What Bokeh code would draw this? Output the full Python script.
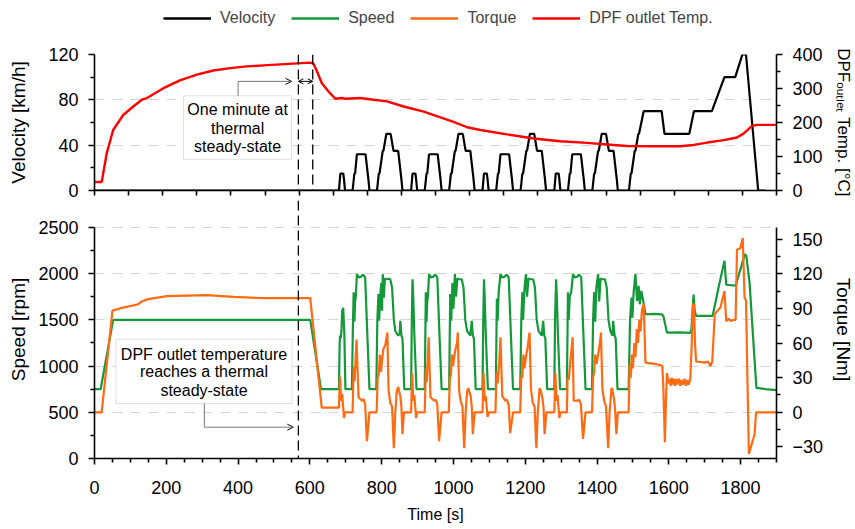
from bokeh.plotting import figure
from bokeh.models import (Range1d, LinearAxis, FixedTicker, Legend, LegendItem, Span,
                          BoxAnnotation, Label, Arrow, OpenHead)
from bokeh.layouts import column
from bokeh.embed import file_html
from bokeh.resources import INLINE

FONT = "Liberation Sans"
BLACK = "#000000"
GREEN = "#14993a"
ORANGE = "#ff6a13"
RED = "#ff0000"

# ---------------- data ----------------
velocity_t = [0, 681, 685, 693, 695, 698, 719, 724, 726, 731, 755, 763, 766, 787, 792, 794, 803, 805, 813, 825, 833, 846, 855, 858,
              882, 886, 894, 896, 899, 920, 925, 927, 932, 956, 964, 967, 988, 993, 995, 1004, 1006, 1014, 1026, 1034, 1047, 1056, 1059,
              1081, 1085, 1093, 1095, 1098, 1119, 1124, 1126, 1131, 1155, 1163, 1166, 1187, 1192, 1194, 1203, 1205, 1213, 1225, 1233, 1246, 1255, 1258,
              1281, 1285, 1293, 1295, 1298, 1319, 1324, 1326, 1331, 1355, 1363, 1366, 1387, 1392, 1394, 1403, 1405, 1413, 1425, 1433, 1446, 1455, 1458,
              1489, 1494, 1496, 1505, 1507, 1515, 1517, 1530, 1580, 1588, 1657, 1670, 1720, 1755, 1785, 1805, 1815, 1849, 1869]
velocity_v = [0, 0, 15, 15, 10, 0, 0, 15, 15, 32, 32, 10, 0, 0, 15, 15, 35, 35, 50, 50, 35, 35, 10, 0,
              0, 15, 15, 10, 0, 0, 15, 15, 32, 32, 10, 0, 0, 15, 15, 35, 35, 50, 50, 35, 35, 10, 0,
              0, 15, 15, 10, 0, 0, 15, 15, 32, 32, 10, 0, 0, 15, 15, 35, 35, 50, 50, 35, 35, 10, 0,
              0, 15, 15, 10, 0, 0, 15, 15, 32, 32, 10, 0, 0, 15, 15, 35, 35, 50, 50, 35, 35, 10, 0,
              0, 15, 15, 35, 35, 50, 50, 70, 70, 50, 50, 70, 70, 100, 100, 120, 120, 0, 0]

temp_t = [0, 20, 34, 52, 80, 108, 132, 146, 192, 238, 285, 331, 378, 424, 471, 517, 564, 601, 610, 620, 633, 652, 671, 689, 700,
          740, 777, 815, 861, 917, 972, 1000, 1038, 1075, 1149, 1223, 1298, 1372, 1446, 1484, 1558, 1632, 1669, 1707, 1753, 1790,
          1809, 1832, 1846, 1900]
temp_v = [25, 25, 109, 178, 222, 247, 267, 272, 301, 324, 341, 353, 360, 365, 368, 371, 374, 376, 373, 350, 316, 291, 270, 272, 270,
          272, 267, 262, 247, 232, 212, 202, 186, 178, 165, 153, 145, 140, 134, 131, 130, 130, 134, 141, 148, 156,
          168, 190, 193, 193]

speed_t = [0, 17, 52, 601, 631, 681,
           683, 684, 686, 688, 690, 693, 696, 699,
           717, 720, 722, 724, 726, 728, 731, 736, 742, 748, 754, 760, 766,
           785, 788, 791, 793, 796, 799, 801, 803, 806, 809, 812, 820, 824, 829, 834, 838, 846, 850, 852, 855, 858, 863,
           882, 884, 886, 888, 891, 897,
           920, 923, 925, 927, 929, 932, 937, 943, 949, 955, 961, 967,
           988, 991, 994, 997, 1000, 1004, 1007, 1011, 1015, 1023, 1028, 1033, 1038, 1047, 1051, 1054, 1057, 1062,
           1081, 1083, 1085, 1087, 1090, 1096,
           1118, 1121, 1123, 1126, 1131, 1136, 1142, 1148, 1154, 1160, 1166,
           1186, 1189, 1192, 1194, 1198, 1202, 1205, 1209, 1213, 1222, 1227, 1232, 1237, 1246, 1250, 1253, 1256, 1261,
           1281, 1283, 1286, 1288, 1291, 1297,
           1316, 1319, 1321, 1324, 1328, 1333, 1338, 1344, 1350, 1356, 1362, 1368,
           1386, 1389, 1392, 1395, 1398, 1403, 1406, 1410, 1414, 1422, 1427, 1432, 1437, 1443, 1445, 1449, 1452, 1457,
           1488, 1492, 1496, 1498.5, 1502, 1507, 1511.5, 1516, 1519, 1523.5, 1530, 1535, 1560, 1581, 1585, 1590, 1595,
           1630, 1660, 1663, 1669, 1672, 1676, 1722, 1738, 1755, 1760, 1786, 1812, 1816, 1825, 1835, 1844, 1870, 1900]
speed_v = [750, 750, 1500, 1500, 750, 750,
           1250, 1330, 1300, 1380, 1600, 1630, 1350, 750,
           750, 1450, 1800, 1480, 1700, 1750, 1995, 1960, 1965, 1990, 1960, 1350, 750,
           750, 1500, 1780, 1490, 1750, 1900, 1600, 1995, 1740, 1950, 1940, 1945, 1940, 1850, 1500, 1380, 1330, 1350, 1490, 1330, 1300, 750,
           750, 1500, 1940, 1750, 1350, 750,
           750, 1800, 1480, 1700, 1760, 1995, 1960, 1965, 1990, 1960, 1350, 750,
           750, 1780, 1490, 1900, 1620, 1995, 1750, 1950, 1940, 1940, 1850, 1500, 1380, 1330, 1490, 1330, 1300, 750,
           750, 1500, 1940, 1750, 1350, 750,
           750, 1730, 1490, 1800, 1995, 1960, 1965, 1990, 1960, 1350, 750,
           750, 1500, 1800, 1500, 1850, 1995, 1750, 1950, 1940, 1940, 1850, 1500, 1380, 1330, 1490, 1330, 1300, 750,
           750, 1500, 1940, 1750, 1350, 750,
           750, 1800, 1500, 1750, 1800, 1995, 1960, 1965, 1990, 1960, 1350, 750,
           750, 1500, 1800, 1480, 1850, 1995, 1700, 1950, 1940, 1940, 1850, 1500, 1380, 1330, 1490, 1330, 1300, 750,
           750, 1500, 1741, 1524, 1800, 1995, 1705, 1868, 1669, 1814, 1676, 1561, 1565, 1560, 1540, 1450, 1362,
           1365, 1360, 1400, 1775, 1600, 1543, 1543, 1840, 2140, 1880, 1870, 2212, 2190, 1900, 1300, 765, 750, 740]

torque_t = [0, 20, 50, 80, 122, 131, 150, 201, 313, 387, 471, 601, 633, 681,
            684, 687, 690, 695, 698, 717,
            719, 722, 724.5, 730, 735.6, 745, 749.5, 754, 759, 766,
            786, 789, 792, 795, 798, 801, 805, 810, 816, 819, 824, 829, 834, 838, 842, 846, 852, 855, 858, 862,
            882, 885, 888, 891, 896, 899,
            920, 923, 925.5, 931, 936, 946, 950, 955, 960, 967,
            987, 990, 993, 996, 999, 1002, 1006, 1010, 1012, 1016, 1020, 1025, 1030, 1034, 1038, 1041, 1048, 1051, 1054, 1059,
            1081, 1084, 1087, 1090, 1095, 1099,
            1117, 1120, 1123, 1128, 1131, 1136, 1145, 1149, 1154, 1158, 1166,
            1186, 1189, 1192, 1195, 1198, 1202, 1206, 1209, 1212, 1216, 1221, 1226, 1231, 1235, 1240, 1244, 1248, 1251, 1254, 1259,
            1281, 1284, 1287, 1290, 1295, 1298,
            1316, 1318, 1321, 1326, 1332, 1335, 1345, 1350, 1355, 1361, 1368,
            1386, 1389, 1392, 1395, 1399, 1404, 1408, 1411, 1415, 1420, 1425, 1431, 1435, 1440, 1442, 1447, 1450, 1454, 1458,
            1488, 1491, 1494, 1497, 1500, 1504, 1507, 1511, 1514, 1518, 1521, 1525, 1530, 1535, 1560, 1575, 1582, 1585, 1589,
            1593, 1595, 1599, 1602, 1605, 1608, 1611, 1614, 1617, 1620, 1624, 1628, 1632, 1636, 1640, 1644, 1648, 1652, 1656,
            1660, 1664, 1667, 1670, 1673, 1676, 1700, 1708, 1713, 1716, 1721, 1728, 1744, 1755, 1760, 1767, 1772, 1780, 1786,
            1790, 1799, 1806, 1811, 1815, 1823, 1839, 1843, 1900]
torque_v = [0, 0, 88, 90.7, 93.6, 95.9, 98, 100.6, 101.4, 100, 98.8, 98.8, 4, 4,
            31, 10, 16, -5, 0, 0,
            0, 39, 27, 63, 13, 10, 11.5, 7, -25, 0,
            0, 30, 33, 50, 35, 45, 55, 58, 69, 20, 8, 5, -31, 0, 18, 22, 14, 5, -19, 0,
            0, 34, 10, 15, -5, 0,
            0, 38, 26, 65, 13, 10, 11, 7, -25, 0,
            0, 30, 32, 50, 40, 48, 55, 60, 69, 18, 10, 5, -31, 0, 18, 21, 14, 5, -19, 0,
            0, 34, 10, 14, -4, 0,
            0, 35, 25, 45, 65, 14, 10, 11, 6, -18, 0,
            0, 32, 30, 50, 38, 48, 55, 62, 69, 20, 8, 5, -31, 0, 21, 18, 12, 4, -19, 0,
            0, 34, 10, 15, -5, 0,
            0, 30, 28, 45, 65, 10, 10, 11, 7, -23, 0,
            0, 30, 35, 50, 42, 52, 60, 69, 20, 10, 5, -31, 0, 20, 21, 12, 4, -19, 0,
            0, 42, 30, 50, 38, 60, 48, 72, 60, 80, 70, 88, 94, 43, 42, 41, 40, 20, -26,
            20, 34, 25, 29, 23, 30, 24, 29, 23, 29, 24, 29, 23, 28, 24, 29, 23, 28, 24,
            30, 60, 94, 93, 60, 44, 43, 44, 42, 40, 44, 85, 91, 105, 79, 81, 79, 80, 80,
            141, 142, 151, 99, 97, -36, -19, 0, 0]

top_x_ticks = [0, 95, 190, 285, 380, 475, 570, 665, 760, 855, 950, 1045, 1140, 1235, 1330, 1425, 1520, 1615, 1710, 1805, 1900]
time_ticks = [0, 200, 400, 600, 800, 1000, 1200, 1400, 1600, 1800]
time_minor = [50, 100, 150, 250, 300, 350, 450, 500, 550, 650, 700, 750, 850, 900, 950, 1050, 1100, 1150,
              1250, 1300, 1350, 1450, 1500, 1550, 1650, 1700, 1750, 1850, 1900]
vel_ticks = [0, 40, 80, 120]
vel_minor = [20, 60, 100]
temp_ticks = [0, 100, 200, 300, 400]
temp_minor = [50, 150, 250, 350]
speed_ticks = [0, 500, 1000, 1500, 2000, 2500]
speed_minor = [250, 750, 1250, 1750, 2250]
torque_ticks = [-30, 0, 30, 60, 90, 120, 150]
torque_minor = [-15, 15, 45, 75, 105, 135]

series_names = ["Velocity", "Speed", "Torque", "DPF outlet Temp."]
series_colors = [BLACK, GREEN, ORANGE, RED]

steady_t = 568
minute_end_t = 608


def style_axis(ax, size="18px"):
    ax.axis_line_width = 1.6
    ax.axis_line_color = BLACK
    ax.major_tick_line_width = 1.6
    ax.minor_tick_line_width = 1.6
    ax.major_tick_out = 6
    ax.major_tick_in = 0
    ax.minor_tick_out = 4
    ax.minor_tick_in = 0
    ax.major_label_text_font = FONT
    ax.major_label_text_font_size = size
    ax.major_label_text_color = BLACK
    ax.major_label_standoff = 10
    ax.axis_label_text_font = FONT
    ax.axis_label_text_font_size = "19px"
    ax.axis_label_text_font_style = "normal"
    ax.axis_label_text_color = BLACK


# ---------------- legend strip ----------------
leg = figure(width=855, height=36, x_range=Range1d(0, 1), y_range=Range1d(0, 1), output_backend="svg",
             toolbar_location=None, x_axis_location=None, y_axis_location=None, min_border=0)
leg.grid.visible = False
leg.outline_line_color = None
leg_items = []
for name, col in zip(series_names, series_colors):
    rr = leg.line([5, 6], [5, 6], line_color=col, line_width=2.4)
    leg_items.append(LegendItem(label=name, renderers=[rr]))
legend = Legend(items=leg_items, orientation="horizontal", location=(69, 8), glyph_width=48, glyph_height=20,
                label_standoff=9, spacing=16, padding=0, margin=0, border_line_color=None,
                background_fill_alpha=0, label_text_font=FONT, label_text_font_size="16px")
leg.add_layout(legend, "center")

# ---------------- top panel ----------------
top = figure(frame_width=682, frame_height=136, x_range=Range1d(0, 1900), y_range=Range1d(0, 120),
             output_backend="svg", toolbar_location=None,
             min_border_left=94, min_border_right=79, min_border_top=18, min_border_bottom=10)
top.extra_y_ranges = {"temp": Range1d(0, 400)}
top.outline_line_color = None
top.xgrid.visible = False
top.ygrid.ticker = FixedTicker(ticks=[40, 80, 120])
top.ygrid.grid_line_dash = "10 8"
top.ygrid.grid_line_color = "#d4d4d4"

top.xaxis.ticker = FixedTicker(ticks=[], minor_ticks=top_x_ticks)
style_axis(top.xaxis[0])
top.xaxis.minor_tick_out = 5
top.xaxis.major_label_standoff = 0
top.yaxis.ticker = FixedTicker(ticks=vel_ticks, minor_ticks=vel_minor)
style_axis(top.yaxis[0])
top.yaxis.axis_label = "Velocity [km/h]"
top.yaxis.axis_label_standoff = 16

rax = LinearAxis(y_range_name="temp", ticker=FixedTicker(ticks=temp_ticks, minor_ticks=temp_minor))
style_axis(rax)
rax.axis_label = "DPF\u2092\u1d64\u209c\u2097\u2091\u209c Temp. [°C]"
rax.axis_label_text_font_size = "17px"
rax.axis_label_standoff = 8
top.add_layout(rax, "right")

top.add_layout(Span(location=steady_t, dimension="height", line_color=BLACK, line_width=1.3, line_dash="10 5"))
top.add_layout(Span(location=minute_end_t, dimension="height", line_color=BLACK, line_width=1.3, line_dash="10 5"))

top.line(velocity_t, velocity_v, line_color=BLACK, line_width=2.2)
top.line(temp_t, temp_v, y_range_name="temp", line_color=RED, line_width=2.4)

# annotation box (top)
top.add_layout(BoxAnnotation(left=248, right=549, bottom=27.6, top=83.6, fill_color="white", fill_alpha=1,
                             line_color="#999999", line_width=1))
for txt, yy in [("One minute at", 71.1), ("thermal", 54.8), ("steady-state", 39.1)]:
    top.add_layout(Label(x=398.7, y=yy, text=txt, text_align="center", text_baseline="middle",
                         text_font=FONT, text_font_size="16px", text_color=BLACK))
top.add_layout(Arrow(end=None, x_start=400, y_start=83.6, x_end=400, y_end=96.3, line_color="#777777", line_width=1))
top.add_layout(Arrow(end=OpenHead(size=6, line_width=1, line_color=BLACK), x_start=400, y_start=96.3, x_end=549,
                     y_end=96.3, line_color="#777777", line_width=1))
top.add_layout(Arrow(start=OpenHead(size=5, line_width=1), end=OpenHead(size=5, line_width=1), x_start=steady_t,
                     y_start=96.3, x_end=minute_end_t, y_end=96.3, line_color=BLACK, line_width=1))

# ---------------- bottom panel ----------------
# frame extends up into the gap so the dashed marker crosses it; axes are bounded to the data span
bot = figure(frame_width=682, frame_height=258, x_range=Range1d(0, 1900), y_range=Range1d(0, 2792),
             output_backend="svg", toolbar_location=None,
             min_border_left=94, min_border_right=79, min_border_top=0, min_border_bottom=71)
bot.extra_y_ranges = {"torque": Range1d(-40, 183.4)}
bot.outline_line_color = None
bot.xgrid.visible = False
bot.ygrid.ticker = FixedTicker(ticks=[500, 1000, 1500, 2000, 2500])
bot.ygrid.grid_line_dash = "10 8"
bot.ygrid.grid_line_color = "#d4d4d4"

bot.xaxis.ticker = FixedTicker(ticks=time_ticks, minor_ticks=time_minor)
style_axis(bot.xaxis[0])
bot.xaxis.major_label_standoff = 16
bot.xaxis.axis_label = "Time [s]"
bot.xaxis.axis_label_text_font_size = "16px"
bot.xaxis.axis_label_standoff = 9
bot.yaxis.ticker = FixedTicker(ticks=speed_ticks, minor_ticks=speed_minor)
style_axis(bot.yaxis[0])
bot.yaxis.bounds = (0, 2500)
bot.yaxis.axis_label = "Speed [rpm]"
bot.yaxis.axis_label_standoff = 6

tax = LinearAxis(y_range_name="torque", ticker=FixedTicker(ticks=torque_ticks, minor_ticks=torque_minor),
                 bounds=(-40, 160))
style_axis(tax)
tax.axis_label = "Torque [Nm]"
tax.axis_label_standoff = 7
bot.add_layout(tax, "right")

bot.add_layout(BoxAnnotation(left=60, right=550, bottom=596, top=1290, fill_color="white", fill_alpha=1,
                             line_color="#999999", line_width=1))

bot.line(speed_t, speed_v, line_color=GREEN, line_width=2.2)
bot.line(torque_t, torque_v, y_range_name="torque", line_color=ORANGE, line_width=2.2)

bot.add_layout(Span(location=steady_t, dimension="height", line_color=BLACK, line_width=1.3, line_dash="10 5"))

for txt, yy in [("DPF outlet temperature", 1127), ("reaches a thermal", 939), ("steady-state", 740)]:
    bot.add_layout(Label(x=305, y=yy, text=txt, text_align="center", text_baseline="middle",
                         text_font=FONT, text_font_size="16px", text_color=BLACK))
bot.add_layout(Arrow(end=None, x_start=306, y_start=596, x_end=306, y_end=339, line_color="#777777", line_width=1))
bot.add_layout(Arrow(end=OpenHead(size=6, line_width=1, line_color=BLACK), x_start=306, y_start=339, x_end=554,
                     y_end=339, line_color="#777777", line_width=1))

layout = column(leg, top, bot, spacing=0)
open("out.html", "w").write(file_html(layout, INLINE))
